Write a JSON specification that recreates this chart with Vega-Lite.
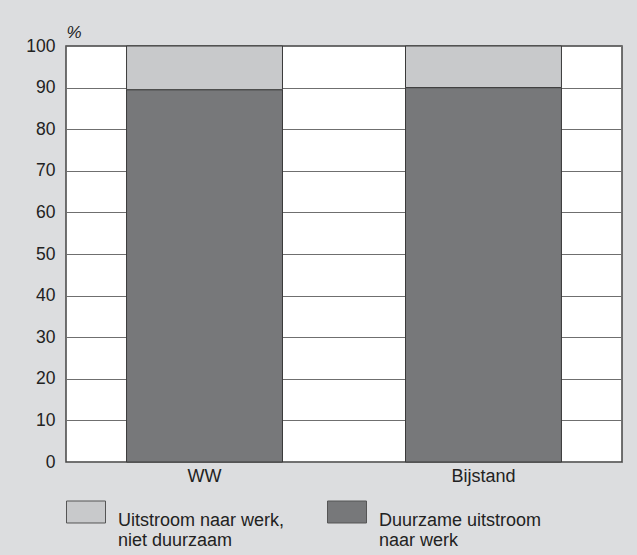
{
  "$schema": "https://vega.github.io/schema/vega-lite/v6.json",
  "width": 556,
  "height": 416,
  "autosize": {"type": "none"},
  "padding": {"left": 66, "top": 46, "right": 15, "bottom": 93},
  "background": "#dcdddf",
  "config": {
    "font": "Liberation Sans",
    "view": {"fill": "white", "stroke": "#444444", "strokeWidth": 1.5}
  },
  "data": {
    "values": [
      {"groep": "WW", "soort": "Duurzame uitstroom naar werk", "volgorde": 1, "pct": 89.5},
      {"groep": "WW", "soort": "Uitstroom naar werk, niet duurzaam", "volgorde": 2, "pct": 10.5},
      {"groep": "Bijstand", "soort": "Duurzame uitstroom naar werk", "volgorde": 1, "pct": 90},
      {"groep": "Bijstand", "soort": "Uitstroom naar werk, niet duurzaam", "volgorde": 2, "pct": 10}
    ]
  },
  "mark": {"type": "bar", "stroke": "#3a3a3a", "strokeWidth": 1},
  "encoding": {
    "x": {
      "field": "groep",
      "type": "nominal",
      "sort": ["WW", "Bijstand"],
      "scale": {"paddingInner": 0.441, "paddingOuter": 0.217},
      "axis": {
        "title": null,
        "labelAngle": 0,
        "labelFontSize": 18,
        "labelColor": "#222222",
        "labelPadding": 5,
        "ticks": false,
        "domain": false
      }
    },
    "y": {
      "field": "pct",
      "type": "quantitative",
      "stack": "zero",
      "scale": {"domain": [0, 100], "nice": false},
      "axis": {
        "values": [0, 10, 20, 30, 40, 50, 60, 70, 80, 90, 100],
        "title": "%",
        "titleAngle": 0,
        "titleX": 0,
        "titleY": -9,
        "titleAlign": "left",
        "titleBaseline": "alphabetic",
        "titleFontStyle": "italic",
        "titleFontWeight": "normal",
        "titleFontSize": 17,
        "titleColor": "#222222",
        "labelFontSize": 17.5,
        "labelColor": "#222222",
        "labelPadding": 11,
        "ticks": false,
        "domain": false,
        "grid": true,
        "gridColor": "#6f6f6f",
        "gridOpacity": 1,
        "gridWidth": 1
      }
    },
    "order": {"field": "volgorde", "type": "quantitative"},
    "color": {
      "field": "soort",
      "type": "nominal",
      "scale": {
        "domain": ["Uitstroom naar werk, niet duurzaam", "Duurzame uitstroom naar werk"],
        "range": ["#c8c9cb", "#77787a"]
      },
      "legend": {
        "title": null,
        "orient": "none",
        "legendX": 0,
        "legendY": 446,
        "direction": "horizontal",
        "columns": 2,
        "columnPadding": 40,
        "padding": 0,
        "symbolType": "M-1,-0.564H1V0.564H-1Z",
        "symbolSize": 1521,
        "symbolStrokeColor": "#555555",
        "symbolStrokeWidth": 1,
        "symbolOpacity": 1,
        "labelFontSize": 18,
        "labelLineHeight": 21,
        "labelColor": "#222222",
        "labelOffset": 12,
        "labelBaseline": "top",
        "labelLimit": 300,
        "labelExpr": "datum.label == 'Duurzame uitstroom naar werk' ? ['Duurzame uitstroom', 'naar werk'] : ['Uitstroom naar werk,', 'niet duurzaam']"
      }
    }
  }
}
